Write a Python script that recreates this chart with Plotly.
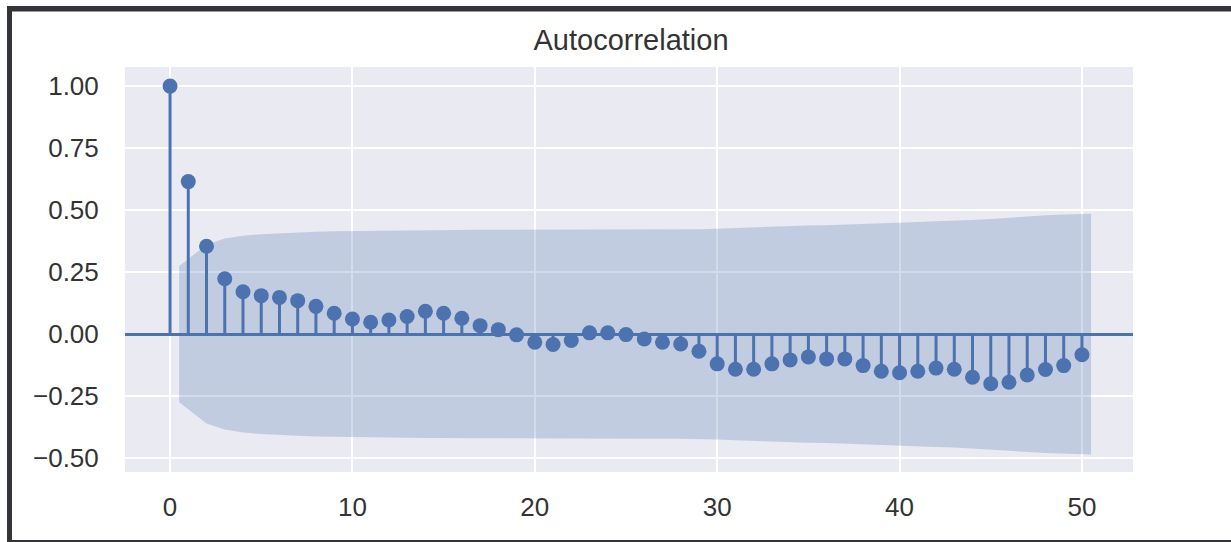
import plotly.graph_objects as go

# ---- data ----
lags = list(range(0, 51))
acf_values = [
    1.00, 0.615, 0.354, 0.223, 0.171, 0.155, 0.148, 0.135, 0.112, 0.084,
    0.061, 0.048, 0.057, 0.071, 0.092, 0.084, 0.064, 0.034, 0.018, -0.003,
    -0.033, -0.042, -0.026, 0.005, 0.005, -0.002, -0.020, -0.033, -0.040, -0.069,
    -0.120, -0.142, -0.142, -0.120, -0.104, -0.092, -0.100, -0.100, -0.127, -0.150,
    -0.156, -0.150, -0.137, -0.142, -0.174, -0.200, -0.194, -0.165, -0.143, -0.127,
    -0.083,
]
# confidence band (half-width) for lags 1..50; first/last edges stretched by half a lag
band_x = [0.5] + list(range(2, 50)) + [50.5]
band_half = [
    0.275, 0.360, 0.385, 0.397, 0.403, 0.407, 0.410, 0.413, 0.415, 0.416,
    0.417, 0.417, 0.418, 0.419, 0.420, 0.421, 0.421, 0.421, 0.421, 0.421,
    0.422, 0.422, 0.422, 0.422, 0.422, 0.422, 0.422, 0.422, 0.423, 0.425,
    0.428, 0.431, 0.434, 0.436, 0.438, 0.439, 0.441, 0.443, 0.446, 0.449,
    0.452, 0.455, 0.457, 0.460, 0.464, 0.470, 0.475, 0.479, 0.482, 0.485,
]
x_ticks = [0, 10, 20, 30, 40, 50]
y_ticks = [-0.50, -0.25, 0.00, 0.25, 0.50, 0.75, 1.00]
y_tick_text = ["\u22120.50", "\u22120.25", "0.00", "0.25", "0.50", "0.75", "1.00"]
title_text = "Autocorrelation"

BLUE = "#4C72B0"
FONT = "Liberation Sans, Arial, sans-serif"
TEXT = "#333333"

fig = go.Figure()

# band
fig.add_trace(go.Scatter(
    x=band_x + band_x[::-1],
    y=[h for h in band_half] + [-h for h in band_half[::-1]],
    fill="toself", fillcolor="rgba(76,114,176,0.25)",
    line=dict(width=0), mode="lines", hoverinfo="skip", showlegend=False,
))

# stems
sx, sy = [], []
for k, v in zip(lags, acf_values):
    sx += [k, k, None]
    sy += [0, v, None]
fig.add_trace(go.Scatter(x=sx, y=sy, mode="lines",
                         line=dict(color=BLUE, width=3), showlegend=False))

# markers
fig.add_trace(go.Scatter(x=lags, y=acf_values, mode="markers",
                         marker=dict(color=BLUE, size=15, line=dict(width=0)),
                         showlegend=False))

# frame of the screenshot (decoration)
L, R, T, B = 125, 98, 67, 70
W, H = 1231, 542
pw, ph = W - L - R, H - T - B
def px(xp):
    return (xp - L) / pw
def py(yp):
    return (H - B - yp) / ph
frame = "#343438"
fig.add_shape(type="rect", xref="paper", yref="paper",
              x0=px(7), x1=px(W), y0=py(11.5), y1=py(6),
              fillcolor=frame, line=dict(width=0), layer="above")
fig.add_shape(type="rect", xref="paper", yref="paper",
              x0=px(7), x1=px(12), y0=py(H), y1=py(6),
              fillcolor=frame, line=dict(width=0), layer="above")
fig.add_shape(type="rect", xref="paper", yref="paper",
              x0=px(7), x1=px(W), y0=py(H), y1=py(540),
              fillcolor=frame, line=dict(width=0), layer="above")

fig.update_layout(
    width=W, height=H,
    margin=dict(l=L, r=R, t=T, b=B, pad=0),
    paper_bgcolor="white", plot_bgcolor="#EAEAF2",
    title=dict(text=title_text, xref="container", x=631 / W, xanchor="center",
               yref="container", y=1 - 40 / H, yanchor="middle",
               font=dict(family=FONT, size=29, color=TEXT)),
    font=dict(family=FONT, color=TEXT),
    showlegend=False,
)
fig.update_xaxes(
    range=[-2.47, 52.8], tickvals=x_ticks, ticktext=[str(t) for t in x_ticks],
    showgrid=True, gridcolor="white", gridwidth=2, zeroline=False,
    showline=False, ticks="outside", ticklen=12, tickcolor="rgba(0,0,0,0)",
    tickfont=dict(family=FONT, size=26, color=TEXT),
)
fig.update_yaxes(
    range=[-0.556, 1.077], tickvals=y_ticks, ticktext=y_tick_text,
    showgrid=True, gridcolor="white", gridwidth=2,
    zeroline=True, zerolinecolor=BLUE, zerolinewidth=3,
    showline=False, ticks="outside", ticklen=20, tickcolor="rgba(0,0,0,0)",
    tickfont=dict(family=FONT, size=26, color=TEXT),
)

fig.write_html(
    "out.html", config={"displayModeBar": False},
    post_script="document.body.style.margin='0px';"
                "document.body.style.overflow='hidden';"
                "document.documentElement.style.overflow='hidden';",
)
